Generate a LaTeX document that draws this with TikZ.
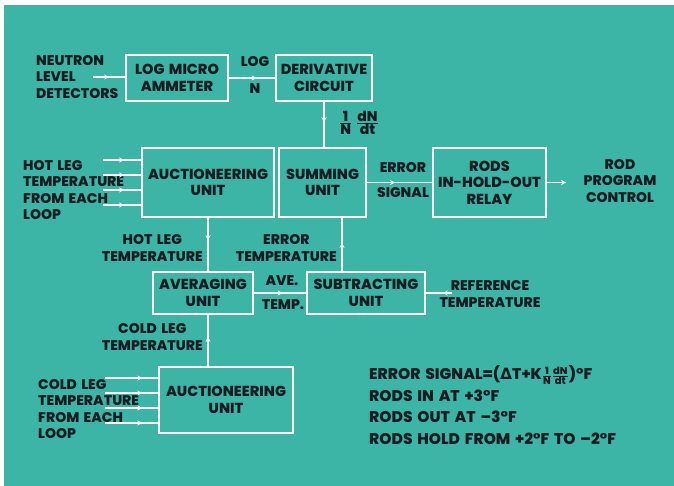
\documentclass[tikz,border=0pt]{standalone}
\usepackage{fontspec}
\setmainfont{Poppins}[BoldFont={* ExtraBold}, WordSpace=1.6]
\newfontfamily\deltafont{DejaVu Sans}
\usetikzlibrary{arrows.meta,decorations.markings}

\definecolor{panel}{RGB}{60,181,167}
\definecolor{ink}{RGB}{22,28,34}
\newcommand{\smallfrac}[2]{$\frac{\mbox{\fontsize{10}{10}\selectfont #1}}{\mbox{\fontsize{10}{10}\selectfont #2}}$}

\begin{document}
\begin{tikzpicture}[x=1pt, y=-1pt,
    unit/.style={draw=white, line width=1.3pt, text=ink, align=center,
        font=\bfseries\fontsize{14.5}{16.5}\selectfont},
    txt/.style={text=ink, align=center, inner sep=1pt,
        font=\bfseries\fontsize{14}{16.5}\selectfont},
    link/.style={draw=white, line width=1.3pt},
    flow/.style={link, postaction={decorate}, decoration={markings,
        mark=at position #1 with {\arrow[white]{Stealth[length=5pt,width=5pt]}}}},
    flow/.default=0.5]

    % Background panel
    \useasboundingbox (0,0) rectangle (674,486);
    \fill[white] (0,0) rectangle (674,486);
    \fill[panel] (4,5) rectangle (674,486);

    % Define the units
    \node[unit, minimum width=102pt, minimum height=46pt] (ammeter) at (177,78) {LOG MICRO\\AMMETER};
    \node[unit, minimum width=96pt, minimum height=46pt] (deriv) at (324,78) {DERIVATIVE\\CIRCUIT};
    \node[unit, minimum width=132pt, minimum height=69pt] (hotauct) at (208,182.5) {AUCTIONEERING\\UNIT};
    \node[unit, minimum width=87pt, minimum height=69pt] (summing) at (322.5,182.5) {SUMMING\\UNIT};
    \node[unit, minimum width=113pt, minimum height=69pt] (relay) at (489.5,182.5) {RODS\\IN-HOLD-OUT\\RELAY};
    \node[unit, minimum width=100pt, minimum height=42pt] (averaging) at (203,293) {AVERAGING\\UNIT};
    \node[unit, minimum width=118pt, minimum height=42pt] (subtract) at (366,293) {SUBTRACTING\\UNIT};
    \node[unit, minimum width=134pt, minimum height=66pt] (coldauct) at (226,400) {AUCTIONEERING\\UNIT};

    % Labels
    \node[txt, anchor=west, align=left] (neutron) at (35,77) {NEUTRON\\LEVEL\\DETECTORS};
    \node[txt] (logtxt) at (255,62) {LOG};
    \node[txt] (ntxt) at (255,89) {N};
    \node[txt] (ratio) at (359,123) {$\frac{\mbox{1}}{\mbox{N}}\;\frac{\mbox{dN}}{\mbox{dt}}$};
    \node[txt, anchor=west, align=left] (hotin) at (22,190) {HOT LEG\\TEMPERATURE\\FROM EACH\\LOOP};
    \node[txt] (errtxt) at (403,168) {ERROR};
    \node[txt] (sigtxt) at (403,193) {SIGNAL};
    \node[txt] (rodctl) at (620,181) {ROD\\PROGRAM\\CONTROL};
    \node[txt, anchor=east] (hotleg) at (204,248) {HOT LEG\\TEMPERATURE};
    \node[txt, anchor=east] (errtemp) at (338,248) {ERROR\\TEMPERATURE};
    \node[txt] (avetxt) at (282,281) {AVE.};
    \node[txt] (temptxt) at (283,305) {TEMP.};
    \node[txt] (reftemp) at (490,294) {REFERENCE\\TEMPERATURE};
    \node[txt, anchor=east] (coldleg) at (204,337) {COLD LEG\\TEMPERATURE};
    \node[txt, anchor=west, align=left] (coldin) at (37,409) {COLD LEG\\TEMPERATURE\\FROM EACH\\LOOP};
    \node[txt, anchor=west, align=left, font=\bfseries\fontsize{15.5}{21.5}\selectfont] (rules) at (368,405)
        {ERROR SIGNAL=({\deltafont\bfseries Δ}T+K\smallfrac{1}{N}\smallfrac{dN}{dt})°F\\
         RODS IN AT +3°F\\
         RODS OUT AT –3°F\\
         RODS HOLD FROM +2°F TO –2°F};

    % Free ends of the signal lines
    \coordinate (detect) at (93,77);
    \coordinate (rodout) at (566,182.5);
    \coordinate (refin) at (452,293);
    \coordinate (hot1) at (103,160);
    \coordinate (hot2) at (103,175);
    \coordinate (hot3) at (103,190);
    \coordinate (hot4) at (103,205);
    \coordinate (cold1) at (105,378);
    \coordinate (cold2) at (105,393);
    \coordinate (cold3) at (105,408);
    \coordinate (cold4) at (105,423);

    % Signal lines
    \draw[flow] (detect) -- (detect -| ammeter.west);
    \draw[flow=0.6] (ammeter.east) -- (deriv.west);
    \draw[flow=0.45] (deriv.south) -- (deriv.south |- summing.north);
    \draw[flow=0.43] (summing.east) -- (relay.west);
    \draw[link, -{Stealth[length=5pt,width=5pt]}] (relay.east) -- (rodout);
    \draw[flow=0.55] (hot1) -- (hot1 -| hotauct.west);
    \draw[flow=0.55] (hot2) -- (hot2 -| hotauct.west);
    \draw[flow=0.55] (hot3) -- (hot3 -| hotauct.west);
    \draw[flow=0.55] (hot4) -- (hot4 -| hotauct.west);
    \draw[flow=0.42] (hotauct.south) -- (hotauct.south |- averaging.north);
    \draw[flow=0.53] ([xshift=-24pt]subtract.north) -- ([xshift=-24pt]subtract.north |- summing.south);
    \draw[flow=0.55] (averaging.east) -- (subtract.west);
    \draw[flow=0.35] (refin) -- (subtract.east);
    \draw[flow=0.57] (hotauct.south |- coldauct.north) -- (hotauct.south |- averaging.south);
    \draw[flow=0.7] (cold1) -- (cold1 -| coldauct.west);
    \draw[flow=0.7] (cold2) -- (cold2 -| coldauct.west);
    \draw[flow=0.7] (cold3) -- (cold3 -| coldauct.west);
    \draw[flow=0.7] (cold4) -- (cold4 -| coldauct.west);
\end{tikzpicture}
\end{document}
